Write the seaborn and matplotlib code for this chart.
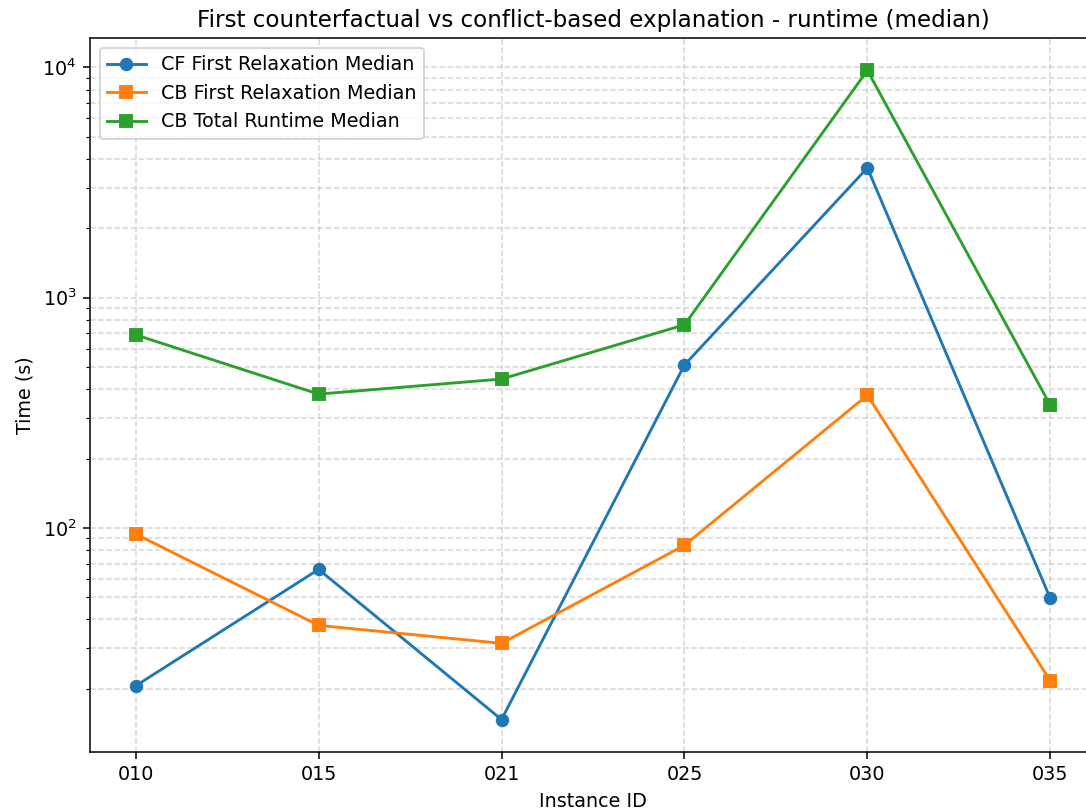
import matplotlib
matplotlib.use("Agg")
import matplotlib.pyplot as plt
import seaborn as sns

instance_ids = ["010", "015", "021", "025", "030", "035"]
cf_first = [20.6, 66, 14.7, 510, 3660, 49.4]
cb_first = [94, 37.7, 31.5, 84, 377, 21.7]
cb_total = [689, 381, 443, 762, 9700, 341]

series = [
    ("CF First Relaxation Median", cf_first, "o", "#1f77b4"),
    ("CB First Relaxation Median", cb_first, "s", "#ff7f0e"),
    ("CB Total Runtime Median", cb_total, "s", "#2ca02c"),
]

plt.rcParams['font.family'] = ['DejaVu Sans']
fig = plt.figure(figsize=(1086 / 138, 811 / 138), dpi=138)
ax = fig.add_axes([90 / 1086, 1 - 752 / 811, (1096 - 90) / 1086, (752 - 38) / 811])

for label, vals, mk, col in series:
    sns.lineplot(x=instance_ids, y=vals, marker=mk, markersize=6,
                 markeredgewidth=1.0, markeredgecolor=col,
                 color=col, label=label, linewidth=1.5, ax=ax, sort=False)

ax.set_yscale("log")
ax.set_xlabel("Instance ID")
ax.set_ylabel("Time (s)")
ax.set_title("First counterfactual vs conflict-based explanation - runtime (median)")
ax.grid(True, which="both", linestyle="--", alpha=0.5)
ax.legend(loc="upper left")

fig.savefig("out.png", dpi=138)
